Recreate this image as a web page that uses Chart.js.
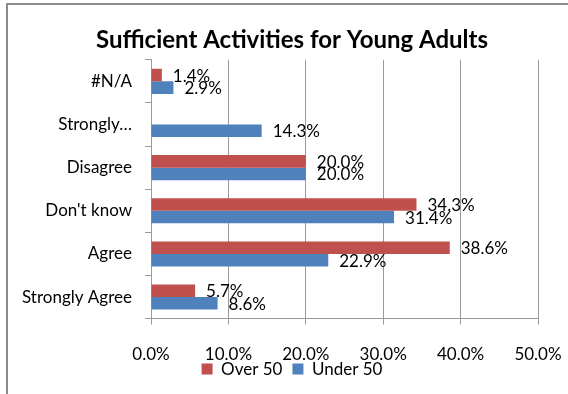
<!DOCTYPE html>
<html>
<head>
<meta charset="utf-8">
<script src="https://cdn.jsdelivr.net/npm/chart.js@4.4.0/dist/chart.umd.min.js"></script>
<style>
  html, body { margin: 0; padding: 0; background: #fff; }
  #frame {
    position: absolute; left: 6px; top: 3px;
    width: 560px; height: 389px;
    border-top: 2px solid #8c8c8c; border-left: 2px solid #8c8c8c;
  }
  #chart { display: block; }
</style>
</head>
<body>
<div id="frame"><canvas id="chart" width="560" height="389"></canvas></div>
<script>
// categorias (de cima para baixo) e séries
const categorias = ["#N/A", "Strongly…", "Disagree", "Don't know", "Agree", "Strongly Agree"];
const over50 = [1.4, null, 20.0, 34.3, 38.6, 5.7];
const under50 = [2.9, 14.3, 20.0, 31.4, 22.9, 8.6];
const xTicks = [0, 10, 20, 30, 40, 50];

const FONT = "Lato";
const pct = v => Number(v).toFixed(1) + "%";

const ajustes = {
  id: "ajustes",
  afterLayout(chart) {
    // título e legenda centrados na largura toda, não só até o padding
    [chart.titleBlock, chart.legend].forEach(b => { if (b) { b.left = 0; b.right = 568; } });
    // legenda logo abaixo dos rótulos do eixo x
    const lg = chart.legend, h = lg.height;
    lg.top = chart.scales.x.top + 32;
    lg.bottom = lg.top + h;
  },
  // rótulos de valor à direita de cada barra
  afterDatasetsDraw(chart) {
    const ctx = chart.ctx;
    ctx.save();
    ctx.font = `17px ${FONT}`;
    ctx.fillStyle = "#000";
    ctx.textAlign = "left";
    ctx.textBaseline = "middle";
    chart.data.datasets.forEach((ds, i) => {
      chart.getDatasetMeta(i).data.forEach((bar, j) => {
        const v = ds.data[j];
        if (v == null) return;
        ctx.fillText(pct(v), bar.x + 11, bar.y + 1);
      });
    });
    ctx.restore();
  }
};

new Chart(document.getElementById("chart"), {
  type: "bar",
  data: {
    labels: categorias,
    datasets: [
      { label: "Over 50", data: over50, backgroundColor: "#C0504D" },
      { label: "Under 50", data: under50, backgroundColor: "#4F81BD" }
    ]
  },
  options: {
    indexAxis: "y",
    responsive: false,
    animation: false,
    layout: { padding: { top: 0, right: 30, bottom: -28, left: 0 } },
    datasets: { bar: { categoryPercentage: 0.58, barPercentage: 1 } },
    scales: {
      x: {
        min: 0, max: 50,
        afterBuildTicks: s => { s.ticks = xTicks.map(v => ({ value: v })); },
        afterFit: s => { s.paddingLeft = 0; s.paddingRight = 0; },
        ticks: { callback: v => pct(v), color: "#000", font: { family: FONT, size: 17 }, padding: 20, maxRotation: 0 },
        grid: { color: "#9a9a9a", tickLength: 6 },
        border: { color: "#9a9a9a" }
      },
      y: {
        afterFit: s => { s.width = 143; },
        ticks: { color: "#000", font: { family: FONT, size: 17 }, padding: 13 },
        grid: { drawOnChartArea: false, color: "#9a9a9a", tickLength: 6 },
        border: { color: "#9a9a9a" }
      }
    },
    plugins: {
      title: {
        display: true,
        text: "Sufficient Activities for Young Adults",
        color: "#000",
        font: { family: FONT, size: 24, weight: "bold" },
        padding: { top: 21, bottom: 5 }
      },
      legend: {
        position: "bottom",
        labels: { boxWidth: 11, boxHeight: 11, color: "#000", font: { family: FONT, size: 17 }, padding: 10 }
      },
      tooltip: { enabled: false }
    }
  },
  plugins: [ajustes]
});
</script>
</body>
</html>
